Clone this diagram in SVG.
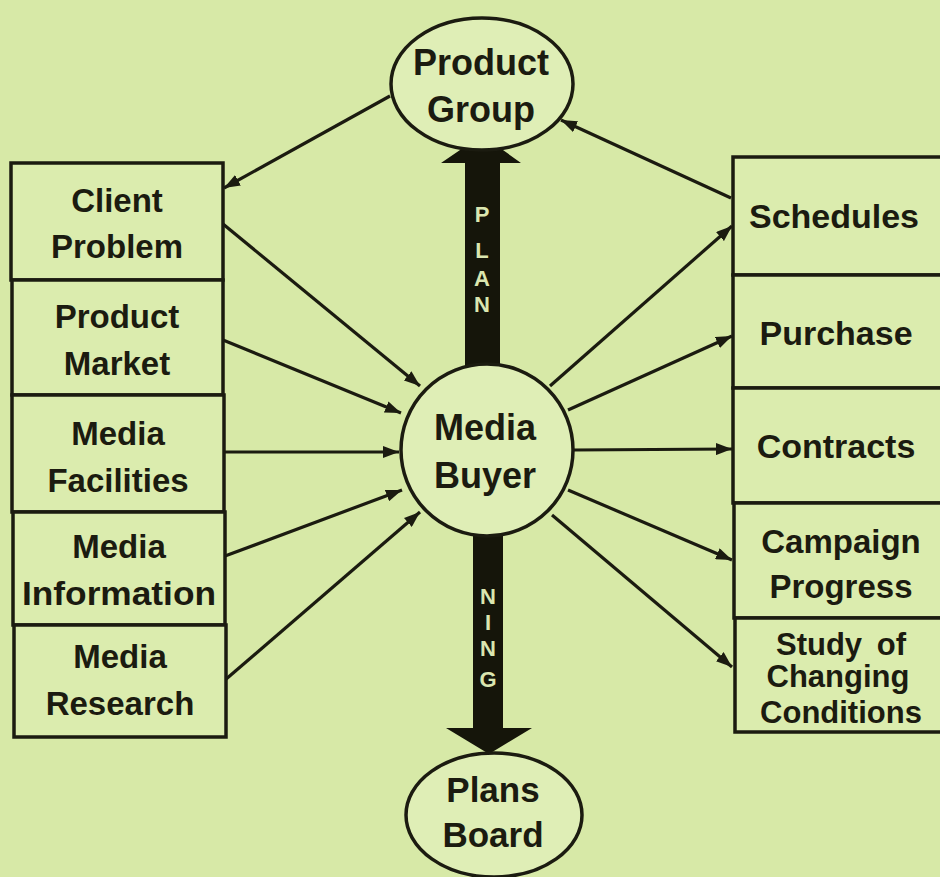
<svg xmlns="http://www.w3.org/2000/svg" width="940" height="877" viewBox="0 0 940 877">
  <style>
    .bg { fill: #d7e9a7; }
    .box { fill: #dbecae; stroke: #1b1b10; stroke-width: 3.5; }
    .oval { fill: #dfeeb6; stroke: #1b1b10; stroke-width: 3.5; }
    .lbl { font-family: "Liberation Sans", Arial, sans-serif; font-weight: bold; fill: #1b1b10; text-anchor: middle; }
    .shaft { fill: #15150a; }
    .shaft-lbl { font-family: "Liberation Sans", Arial, sans-serif; font-weight: bold; font-size: 22px; fill: #dbe6b0; text-anchor: middle; }
    .link { fill: none; stroke: #1b1b10; stroke-width: 3.2; marker-end: url(#tip); }
  </style>
  <defs>
    <marker id="tip" markerUnits="userSpaceOnUse" markerWidth="17" markerHeight="12" refX="16" refY="6" orient="auto">
      <path d="M0,0 L16,6 L0,12 z" fill="#1b1b10"/>
    </marker>
  </defs>

  <rect class="bg" x="0" y="0" width="940" height="877"/>

  <!-- connectors -->
  <g id="connectors">
    <path class="link" d="M390,96 L224,188"/>
    <path class="link" d="M731,198 L561,120"/>
    <path class="link" d="M223,224 L420,386"/>
    <path class="link" d="M223,340 L401,413"/>
    <path class="link" d="M224,452 L399,452"/>
    <path class="link" d="M225,556 L402,490"/>
    <path class="link" d="M225,680 L420,512"/>
    <path class="link" d="M550,386 L732,226"/>
    <path class="link" d="M568,410 L732,336"/>
    <path class="link" d="M574,450 L732,449"/>
    <path class="link" d="M568,490 L732,560"/>
    <path class="link" d="M552,515 L732,667"/>
  </g>

  <!-- planning double arrow -->
  <g id="planning-arrow">
    <polygon class="shaft" points="465,366 465,163 441,163 482,135 521,163 500,163 500,366"/>
    <polygon class="shaft" points="473,526 473,728 446,728 489,754 532,728 503,728 503,526"/>
    <text class="shaft-lbl" x="482" y="222">P</text>
    <text class="shaft-lbl" x="482" y="258">L</text>
    <text class="shaft-lbl" x="482" y="286">A</text>
    <text class="shaft-lbl" x="482" y="312">N</text>
    <text class="shaft-lbl" x="488" y="604">N</text>
    <text class="shaft-lbl" x="488" y="630">I</text>
    <text class="shaft-lbl" x="488" y="656">N</text>
    <text class="shaft-lbl" x="488" y="687">G</text>
  </g>

  <!-- central nodes -->
  <g id="product-group">
    <ellipse class="oval" cx="482" cy="84" rx="91" ry="66"/>
    <text class="lbl" x="481" y="75" font-size="36">Product</text>
    <text class="lbl" x="481" y="122" font-size="36">Group</text>
  </g>
  <g id="media-buyer">
    <circle class="oval" cx="487" cy="450" r="86"/>
    <text class="lbl" x="485" y="440" font-size="36">Media</text>
    <text class="lbl" x="485" y="488" font-size="36">Buyer</text>
  </g>
  <g id="plans-board">
    <ellipse class="oval" cx="494" cy="815" rx="88" ry="62"/>
    <text class="lbl" x="493" y="802" font-size="35">Plans</text>
    <text class="lbl" x="493" y="847" font-size="35">Board</text>
  </g>

  <!-- left column -->
  <g id="client-problem">
    <rect class="box" x="11" y="163" width="212" height="117"/>
    <text class="lbl" x="117" y="212" font-size="33">Client</text>
    <text class="lbl" x="117" y="258" font-size="33">Problem</text>
  </g>
  <g id="product-market">
    <rect class="box" x="12" y="280" width="211" height="115"/>
    <text class="lbl" x="117" y="328" font-size="33">Product</text>
    <text class="lbl" x="117" y="375" font-size="33">Market</text>
  </g>
  <g id="media-facilities">
    <rect class="box" x="12" y="395" width="212" height="117"/>
    <text class="lbl" x="118" y="445" font-size="33">Media</text>
    <text class="lbl" x="118" y="492" font-size="33">Facilities</text>
  </g>
  <g id="media-information">
    <rect class="box" x="13" y="512" width="212" height="113"/>
    <text class="lbl" x="119" y="558" font-size="33">Media</text>
    <text class="lbl" x="119" y="605" font-size="33" textLength="194" lengthAdjust="spacingAndGlyphs">Information</text>
  </g>
  <g id="media-research">
    <rect class="box" x="14" y="625" width="212" height="112"/>
    <text class="lbl" x="120" y="668" font-size="33">Media</text>
    <text class="lbl" x="120" y="715" font-size="33">Research</text>
  </g>

  <!-- right column -->
  <g id="schedules">
    <rect class="box" x="733" y="157" width="220" height="118"/>
    <text class="lbl" x="834" y="228" font-size="34">Schedules</text>
  </g>
  <g id="purchase">
    <rect class="box" x="733" y="275" width="220" height="113"/>
    <text class="lbl" x="836" y="345" font-size="34">Purchase</text>
  </g>
  <g id="contracts">
    <rect class="box" x="733" y="388" width="220" height="115"/>
    <text class="lbl" x="836" y="458" font-size="34">Contracts</text>
  </g>
  <g id="campaign-progress">
    <rect class="box" x="734" y="503" width="220" height="115"/>
    <text class="lbl" x="841" y="553" font-size="33">Campaign</text>
    <text class="lbl" x="841" y="598" font-size="33">Progress</text>
  </g>
  <g id="study-of-changing-conditions">
    <rect class="box" x="735" y="618" width="220" height="114"/>
    <text class="lbl" x="841" y="655" font-size="31" word-spacing="6">Study of</text>
    <text class="lbl" x="838" y="687" font-size="31">Changing</text>
    <text class="lbl" x="841" y="723" font-size="31">Conditions</text>
  </g>
</svg>
